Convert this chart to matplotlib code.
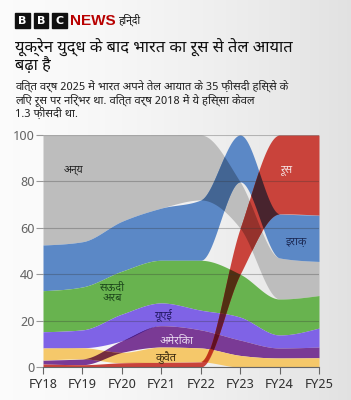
import numpy as np
import matplotlib
matplotlib.use("Agg")
import matplotlib.pyplot as plt
from matplotlib import font_manager
from matplotlib.patches import Rectangle
from matplotlib.colors import to_rgb
from itertools import combinations

# ---- data: share of India's crude oil imports (%) ----
years = ['FY18', 'FY19', 'FY20', 'FY21', 'FY22', 'FY23', 'FY24', 'FY25']
russia = [1.3, 1.0, 1.8, 2.0, 2.2, 19.8, 34.0, 34.5]
iraq = [19.7, 19.5, 21.5, 22.5, 26.0, 20.2, 19.0, 20.0]
saudi = [17.7, 18.5, 18.5, 18.4, 21.5, 18.5, 15.5, 14.0]
uae = [7.0, 7.7, 11.5, 9.8, 8.5, 9.9, 5.6, 8.2]
usa = [1.7, 2.5, 5.0, 9.2, 7.8, 6.6, 4.3, 4.6]
kuwait = [5.2, 4.8, 4.5, 6.6, 6.0, 5.0, 3.9, 4.0]
other = [47.4, 46.0, 37.2, 31.5, 28.0, 20.0, 17.7, 14.7]

names = ['अन्य', 'इराक़', 'सऊदी अरब', 'यूएई', 'अमेरिका', 'कुवैत', 'रूस']
series = [other, iraq, saudi, uae, usa, kuwait, russia]
colors = ['#bdbdbd', '#5b88c6', '#68b34f', '#7f63e6', '#7a3a95', '#f5c86a', '#c9433b']

# fonts: a Devanagari family first, DejaVu as fallback
avail = {f.name for f in font_manager.fontManager.ttflist}
deva = next((f for f in ['Noto Sans Devanagari', 'Mukta', 'Hind', 'Poppins']
             if f in avail), 'DejaVu Sans')
plt.rcParams['font.family'] = [deva, 'DejaVu Sans']


def monotone(xs, ys, xf):
    # d3 curveMonotoneX
    xs = np.asarray(xs, float)
    ys = np.asarray(ys, float)
    h = np.diff(xs)
    s = np.diff(ys) / h
    n = len(xs)
    t = np.zeros(n)
    for i in range(1, n - 1):
        p = (s[i - 1] * h[i] + s[i] * h[i - 1]) / (h[i - 1] + h[i])
        t[i] = (np.sign(s[i - 1]) + np.sign(s[i])) * min(abs(s[i - 1]), abs(s[i]), 0.5 * abs(p))
    t[0] = (3 * s[0] - t[1]) / 2
    t[-1] = (3 * s[-1] - t[-2]) / 2
    out = np.empty_like(xf)
    for k, x in enumerate(xf):
        i = min(int(np.searchsorted(xs, x, side='right')) - 1, n - 2)
        i = max(i, 0)
        u = (x - xs[i]) / h[i]
        h00 = 2 * u**3 - 3 * u**2 + 1
        h10 = u**3 - 2 * u**2 + u
        h01 = -2 * u**3 + 3 * u**2
        h11 = u**3 - u**2
        out[k] = h00 * ys[i] + h10 * h[i] * t[i] + h01 * ys[i + 1] + h11 * h[i] * t[i + 1]
    return out


# ranked stacking: smallest at the bottom each year
vals = np.array(series)
bots = np.zeros_like(vals)
tops = np.zeros_like(vals)
for j in range(vals.shape[1]):
    order = np.argsort(vals[:, j])
    acc = 0.0
    for i in order:
        bots[i, j] = acc
        acc += vals[i, j]
        tops[i, j] = acc

xi = np.arange(len(years))
xf = np.linspace(0, len(years) - 1, 700)
lo = [monotone(xi, b, xf) for b in bots]
hi = [monotone(xi, t, xf) for t in tops]

fig = plt.figure(figsize=(3.51, 4.0), dpi=100)

# page background
bg = fig.add_axes([0, 0, 1, 1], zorder=-5)
grad = np.linspace(0, 1, 256) ** 1.5
img = np.ones((2, 256, 3)) * (0.985 - 0.1 * grad)[None, :, None]
bg.imshow(img, aspect='auto', extent=[0, 1, 0, 1])
bg.axis('off')

ax = fig.add_axes([43 / 351, 33 / 400, 276 / 351, 232 / 400])
ax.patch.set_alpha(0)

# bands, then every overlap in the multiplied colour
for i in range(len(series)):
    ax.fill_between(xf, lo[i], hi[i], where=hi[i] > lo[i], interpolate=True,
                    color=colors[i], lw=0, zorder=1)
for k in range(2, len(series) + 1):
    for combo in combinations(range(len(series)), k):
        l = np.max([lo[i] for i in combo], axis=0)
        u = np.min([hi[i] for i in combo], axis=0)
        mask = u - l > 1e-6
        if not mask.any():
            continue
        c = np.prod([to_rgb(colors[i]) for i in combo], axis=0)
        ax.fill_between(xf, l, u, where=mask, interpolate=True,
                        color=c, lw=0, zorder=1 + k * 0.01)

ax.set_xlim(0, len(years) - 1)
ax.set_ylim(0, 100)
ax.set_xticks(xi)
ax.set_xticklabels(years)
ax.set_yticks([0, 20, 40, 60, 80, 100])
ax.grid(axis='y', color='#333333', alpha=0.3, lw=0.8, zorder=3)
ax.set_axisbelow(False)
for sp in ['top', 'right', 'left']:
    ax.spines[sp].set_visible(False)
ax.spines['bottom'].set_color('#666666')
ax.spines['bottom'].set_zorder(4)
ax.tick_params(axis='y', length=5, color='#999999', labelcolor='#666666',
               labelsize=9.5, pad=1)
ax.tick_params(axis='x', length=5, color='#666666', labelcolor='#333333',
               labelsize=9.5, pad=3)

# band labels
ax.text(0.78, 85, 'अन्य', fontsize=7.5, color='#222222', ha='center', va='center', zorder=5)
ax.text(6.2, 85, 'रूस', fontsize=8, color='#f4dede', ha='center', va='center', zorder=5)
ax.text(6.4, 53.5, 'इराक़', fontsize=8, color='#1c2a55', ha='center', va='center', zorder=5)
ax.text(1.75, 32, 'सऊदी\nअरब', fontsize=8, color='#1e4a1c', ha='center', va='center',
        linespacing=0.85, zorder=5)
ax.text(3.05, 22.4, 'यूएई', fontsize=8, color='#241a66', ha='center', va='center', zorder=5)
ax.text(3.4, 11.2, 'अमेरिका', fontsize=8, color='#eadcf0', ha='center', va='center', zorder=5)
ax.text(3.1, 3.9, 'कुवैत', fontsize=8, color='#3a2a10', ha='center', va='center', zorder=5)

# BBC News Hindi header
for k, letter in enumerate('BBC'):
    x0 = (15 + k * 18.5) / 351
    fig.patches.append(Rectangle((x0, 1 - 28 / 400), 15 / 351, 15 / 400,
                                 transform=fig.transFigure, color='#111111'))
    fig.text(x0 + 7.5 / 351, 1 - 20.5 / 400, letter, ha='center', va='center',
             fontsize=8, fontweight='bold', color='white', family='DejaVu Sans')
fig.text(70 / 351, 1 - 21 / 400, 'NEWS', ha='left', va='center', fontsize=11,
         fontweight='bold', color='#b80000', family='Liberation Sans')
fig.text(119 / 351, 1 - 20 / 400, 'हिन्दी', ha='left', va='center', fontsize=7.5,
         color='#111111')

fig.text(15 / 351, 1 - 39 / 400, 'यूक्रेन युद्ध के बाद भारत का रूस से तेल आयात\nबढ़ा है',
         ha='left', va='top', fontsize=11.8, color='#111111', linespacing=1.0)
fig.text(15 / 351, 1 - 80 / 400,
         'वित्त वर्ष 2025 में भारत अपने तेल आयात के 35 फ़ीसदी हिस्से के\n'
         'लिए रूस पर निर्भर था. वित्त वर्ष 2018 में ये हिस्सा केवल\n'
         '1.3 फ़ीसदी था.',
         ha='left', va='top', fontsize=8.15, color='#222222', linespacing=1.1)

fig.savefig('out.png', dpi=100)
